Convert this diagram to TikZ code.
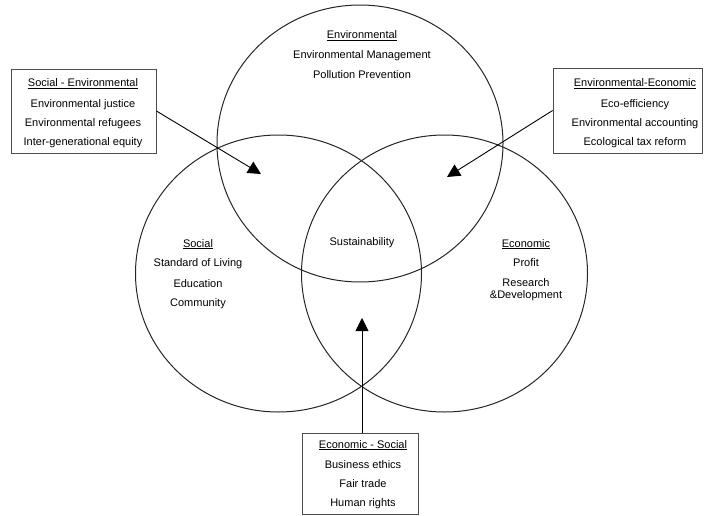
\documentclass[tikz,border=0pt]{standalone}
\usepackage{fontspec}
\setmainfont{Liberation Sans}
\usetikzlibrary{arrows.meta}
\begin{document}
\begin{tikzpicture}[x=1pt,y=-1pt,
  ring/.style={draw=black!85, line width=1pt},
  frame/.style={draw=black!70, line width=0.8pt, inner sep=0pt},
  lbl/.style={anchor=base, inner sep=0pt, font=\fontsize{11}{13}\selectfont, text=black},
  pointer/.style={draw=black, line width=0.9pt, -{Triangle[length=13pt,width=13pt]}}]
\useasboundingbox (0,0) rectangle (706,516);

% circles
\draw[ring] (360,143.5) ellipse [x radius=143pt, y radius=138.5pt];
\draw[ring] (278.5,273.5) ellipse [x radius=143pt, y radius=138.5pt];
\draw[ring] (444.5,273.5) ellipse [x radius=143pt, y radius=138.5pt];

% boxes
\node[frame, minimum width=145pt, minimum height=84pt] (seBox) at (83.5,111) {};
\node[frame, minimum width=149pt, minimum height=85pt] (eeBox) at (627.5,110.5) {};
\node[frame, minimum width=116pt, minimum height=81pt] (esBox) at (360,473.5) {};

% box texts
\node[lbl] (se0) at (83,87) {\underline{Social - Environmental}};
\node[lbl] (se1) at (83,107) {Environmental justice};
\node[lbl] (se2) at (83,127) {Environmental refugees};
\node[lbl] (se3) at (83,146) {Inter-generational equity};

\node[lbl] (ee0) at (635,87) {\underline{Environmental-Economic}};
\node[lbl] (ee1) at (635,107) {Eco-efficiency};
\node[lbl] (ee2) at (635,127) {Environmental accounting};
\node[lbl] (ee3) at (635,146) {Ecological tax reform};

\node[lbl] (es0) at (363,448) {\underline{Economic - Social}};
\node[lbl] (es1) at (363,468) {Business ethics};
\node[lbl] (es2) at (363,487) {Fair trade};
\node[lbl] (es3) at (363,506) {Human rights};

% circle texts
\node[lbl] (en0) at (362,39) {\underline{Environmental}};
\node[lbl] (en1) at (362,59) {Environmental Management};
\node[lbl] (en2) at (362,79) {Pollution Prevention};

\node[lbl] (so0) at (198,247) {\underline{Social}};
\node[lbl] (so1) at (198,266) {Standard of Living};
\node[lbl] (so2) at (198,287) {Education};
\node[lbl] (so3) at (198,306) {Community};

\node[lbl] (su) at (362,245) {Sustainability};

\node[lbl] (ec0) at (526,247) {\underline{Economic}};
\node[lbl] (ec1) at (526,266) {Profit};
\node[lbl] (ec2) at (526,286) {Research};
\node[lbl] (ec3) at (526,298) {\&Development};

% arrows
\coordinate (tipSE) at (261,174);
\coordinate (tipEE) at (447,177);
\coordinate (tipES) at (362,318);
\draw[pointer] (seBox.east) -- (tipSE);
\draw[pointer] (eeBox.west) -- (tipEE);
\draw[pointer] (esBox.north -| tipES) -- (tipES);
\end{tikzpicture}
\end{document}
